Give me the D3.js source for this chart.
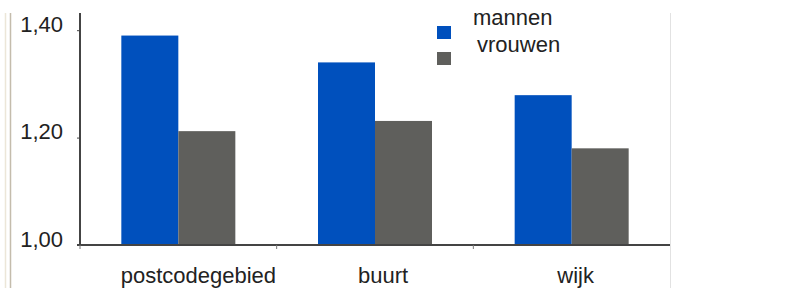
<!DOCTYPE html>
<html>
<head>
<meta charset="UTF-8">
<title>mannen / vrouwen</title>
<script src="https://d3js.org/d3.v7.min.js"></script>
<style>
  body {margin: 0; background: #fff;}
  text {font-family: "Liberation Sans", Arial, sans-serif; fill: #222;}
</style>
</head>
<body>
<div id="chart"></div>
<script>
var categories = ["postcodegebied", "buurt", "wijk"];
var series = ["mannen", "vrouwen"];
var mannen = [1.39, 1.34, 1.279];
var vrouwen = [1.212, 1.231, 1.180];
var yTicks = [1.00, 1.20, 1.40];
var colors = ["#0050bd", "#5f5f5c"];

var W = 810, H = 288;
var margin = {top: 13, left: 80, right: 140, bottom: 43};
var width = W - margin.left - margin.right,
    height = H - margin.top - margin.bottom;
// the category labels sit a bit right of their band centre in the source
var labelShift = [20, 8, 4];

var svg = d3.select("#chart").append("svg")
    .attr("width", W)
    .attr("height", H);

// frame lines at the left and right edges
svg.append("line").attr("x1", 5.5).attr("x2", 5.5).attr("y1", 13).attr("y2", H)
    .attr("stroke", "#ece6d8").attr("stroke-width", 1.5);
svg.append("line").attr("x1", 10.5).attr("x2", 10.5).attr("y1", 13).attr("y2", H)
    .attr("stroke", "#c4bcac").attr("stroke-width", 1.5);
svg.append("line").attr("x1", 670.5).attr("x2", 670.5).attr("y1", 13).attr("y2", H)
    .attr("stroke", "#e2e2e2").attr("stroke-width", 1);

var g = svg.append("g")
    .attr("transform", "translate(" + margin.left + "," + margin.top + ")");

var x0 = d3.scaleBand().domain(categories).range([0, width]);
var x1 = d3.scaleBand().domain(series).range([0, 114]);
var y = d3.scaleLinear().domain([1.0, 1.432]).range([height, 0]);

var rows = categories.map(function(c, i) {
  return {cat: c, values: [mannen[i], vrouwen[i]]};
});

var groups = g.selectAll(".grp").data(rows).enter().append("g")
    .attr("transform", function(d) {
      return "translate(" + (x0(d.cat) + x0.bandwidth() / 2 - 57) + ",0)";
    });

groups.selectAll("rect")
    .data(function(d) { return d.values.map(function(v, j) { return {s: series[j], v: v, j: j}; }); })
    .enter().append("rect")
    .attr("x", function(d) { return x1(d.s); })
    .attr("width", x1.bandwidth())
    .attr("y", function(d) { return y(d.v); })
    .attr("height", function(d) { return height - y(d.v); })
    .attr("fill", function(d) { return colors[d.j]; });

// y axis
var yAxis = g.append("g")
    .call(d3.axisLeft(y).tickValues(yTicks).tickSize(3)
      .tickFormat(function(d) { return d3.format(".2f")(d).replace(".", ","); }));
yAxis.select(".domain").attr("stroke", "#444").attr("stroke-width", 2)
    .attr("d", "M0," + height + "V0");
yAxis.selectAll(".tick line").attr("stroke", "#444");
yAxis.selectAll("text").attr("x", -17).attr("y", 1).attr("dy", 0)
    .attr("font-size", 22).attr("fill", "#222")
    .attr("font-family", "Liberation Sans, Arial, sans-serif");

// x axis
var xAxis = g.append("g")
    .attr("transform", "translate(0," + height + ")")
    .call(d3.axisBottom(x0).tickSize(0));
xAxis.select(".domain").attr("stroke", "#444").attr("stroke-width", 2)
    .attr("d", "M-3,0H" + width);
xAxis.selectAll("text").attr("y", 38).attr("dy", 0)
    .attr("dx", function(d, i) { return labelShift[i]; })
    .attr("font-size", 22).attr("fill", "#222")
    .attr("font-family", "Liberation Sans, Arial, sans-serif");
// small ticks between the categories
g.selectAll(".sep").data([0].concat(categories.slice(1).map(function(c) { return x0(c); })))
    .enter().append("line")
    .attr("x1", function(d) { return d; }).attr("x2", function(d) { return d; })
    .attr("y1", height).attr("y2", height + 4)
    .attr("stroke", "#777").attr("stroke-width", 1);

// legend, clipped at the top like the source
svg.append("clipPath").attr("id", "clip")
  .append("rect").attr("x", 0).attr("y", 13).attr("width", W).attr("height", H - 13);
var legend = svg.append("g").attr("clip-path", "url(#clip)");
var legY = [26, 52];
var textPos = [{x: 473, y: 25}, {x: 477, y: 52}];
series.forEach(function(s, i) {
  legend.append("rect").attr("x", 437).attr("y", legY[i])
      .attr("width", 14).attr("height", 13).attr("fill", colors[i]);
  legend.append("text").attr("x", textPos[i].x).attr("y", textPos[i].y)
      .attr("font-size", 22).text(s);
});
</script>
</body>
</html>
